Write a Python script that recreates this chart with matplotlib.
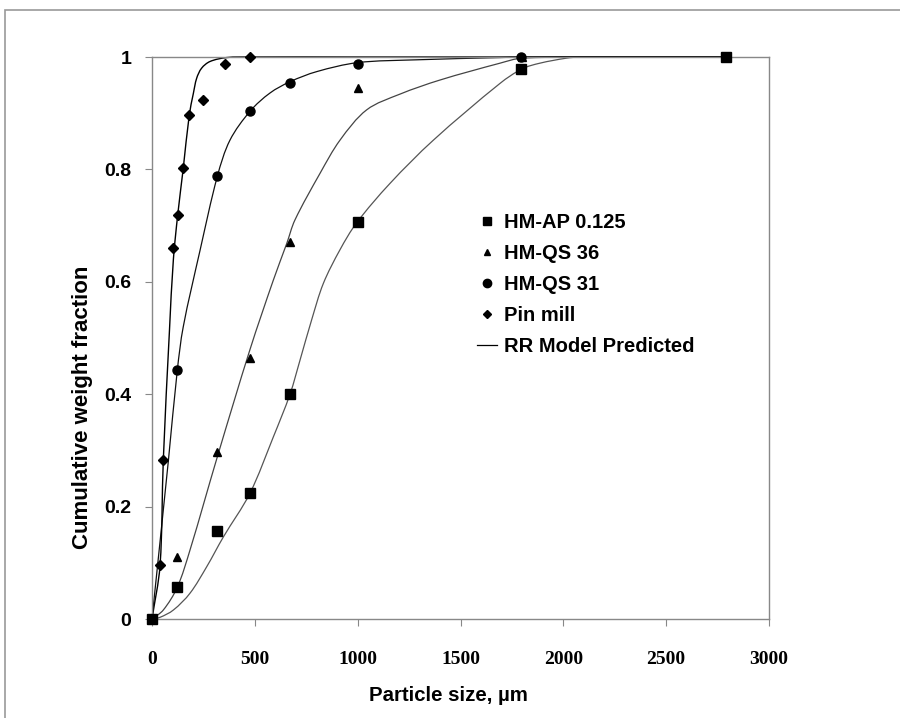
import numpy as np
import matplotlib.pyplot as plt
from matplotlib.patches import Rectangle, PathPatch
from matplotlib.path import Path

SANS = 'Liberation Sans'
SERIF = 'Liberation Serif'

# measured data (particle size in um, cumulative weight fraction)
ap_x = [0, 123, 318, 478, 672, 1000, 1792, 2790]
ap_y = [0, 0.0565, 0.157, 0.224, 0.400, 0.707, 0.979, 1.0]

qs36_x = [0, 123, 318, 478, 672, 1000, 1800]
qs36_y = [0, 0.110, 0.298, 0.464, 0.671, 0.944, 1.0]

qs31_x = [0, 123, 318, 478, 672, 1000, 1794]
qs31_y = [0, 0.4425, 0.788, 0.904, 0.953, 0.988, 1.0]

pin_x = [0, 39, 55, 104, 125, 152, 181, 250, 356, 478]
pin_y = [0, 0.0955, 0.283, 0.661, 0.719, 0.802, 0.896, 0.923, 0.987, 1.0]

# RR model predicted curves
rr_pin_x = [0, 39, 55, 85, 104, 125, 152, 181, 201, 217, 241, 282, 363, 480, 1000, 2800]
rr_pin_y = [0, 0.095, 0.283, 0.514, 0.640, 0.719, 0.802, 0.896, 0.935, 0.962,
            0.980, 0.992, 0.999, 1.0, 1.0, 1.0]

rr_qs31_x = [0, 80, 123, 152, 233, 318, 379, 478, 574, 671, 801, 1000, 1287, 1692, 1800,
             2300, 2800]
rr_qs31_y = [0, 0.283, 0.4425, 0.52, 0.655, 0.788, 0.852, 0.904, 0.936, 0.956,
             0.974, 0.990, 0.995, 0.999, 1.0, 1.0, 1.0]

rr_qs36_x = [0, 55, 123, 185, 318, 476, 590, 655, 695, 817, 914, 1044, 1206,
             1400, 1692, 1800, 2300, 2800]
rr_qs36_y = [0, 0.016, 0.0565, 0.123, 0.289, 0.479, 0.603, 0.668, 0.71,
             0.793, 0.852, 0.906, 0.934, 0.959, 0.989, 0.998, 1.0, 1.0]

rr_ap_x = [0, 39, 104, 185, 266, 347, 476, 590, 671, 720, 776, 833, 914, 995, 1157,
           1368, 1692, 1800, 1886, 2016, 2081, 2400, 2800]
rr_ap_y = [0, 0.003, 0.016, 0.046, 0.093, 0.146, 0.2236, 0.324, 0.400, 0.461, 0.532,
           0.597, 0.657, 0.705, 0.775, 0.852, 0.953, 0.979, 0.989, 0.998, 1.0, 1.0, 1.0]

x_ticks = [0, 500, 1000, 1500, 2000, 2500, 3000]
y_ticks = [0, 0.2, 0.4, 0.6, 0.8, 1.0]
y_tick_labels = ['0', '0.2', '0.4', '0.6', '0.8', '1']


def smooth_path(xs, ys):
    # cubic bezier through the points, like a spreadsheet "smoothed line"
    p = np.column_stack([xs, ys]).astype(float)
    q = p / np.array([3000.0, 1.1])
    t = np.concatenate([[0], np.cumsum(np.hypot(*np.diff(q, axis=0).T))])
    n = len(p)
    m = np.zeros_like(p)
    for i in range(n):
        a, b = max(i - 1, 0), min(i + 1, n - 1)
        m[i] = (p[b] - p[a]) / (t[b] - t[a])
    verts = [p[0]]
    codes = [Path.MOVETO]
    for i in range(n - 1):
        h = (t[i + 1] - t[i]) / 3
        verts += [p[i] + m[i] * h, p[i + 1] - m[i + 1] * h, p[i + 1]]
        codes += [Path.CURVE4] * 3
    return Path(verts, codes)


fig = plt.figure(figsize=(9, 7.18), dpi=100)
ax = fig.add_axes([152 / 900, 1 - 619 / 718, 617 / 900, 562 / 718])

# outer gray frame (partly cut off like the source)
fig.patches.append(Rectangle((5 / 900, -0.1), 1.2, 1.1 - 10 / 718,
                             transform=fig.transFigure, fill=False,
                             edgecolor='#999999', linewidth=1.2))

for cx, cy, col, lw in [(rr_ap_x, rr_ap_y, '#555555', 0.9),
                        (rr_qs36_x, rr_qs36_y, '#444444', 0.9),
                        (rr_qs31_x, rr_qs31_y, '#111111', 0.9),
                        (rr_pin_x, rr_pin_y, '#000000', 1.0)]:
    ax.add_patch(PathPatch(smooth_path(cx, cy), fill=False, edgecolor=col,
                           lw=lw, clip_on=False))

ax.plot(ap_x, ap_y, 's', color='black', ms=6.5, clip_on=False, zorder=5)
ax.plot(qs36_x, qs36_y, '^', color='black', ms=5.5, clip_on=False, zorder=5)
ax.plot(qs31_x, qs31_y, 'o', color='black', ms=6.5, clip_on=False, zorder=5)
ax.plot(pin_x, pin_y, 'D', color='black', ms=5.2, clip_on=False, zorder=5)

ax.set_xlim(0, 3000)
ax.set_ylim(0, 1)
ax.set_xticks(x_ticks)
ax.set_xticklabels([str(v) for v in x_ticks], family=SERIF, fontweight='bold', fontsize=14)
ax.set_yticks(y_ticks)
ax.set_yticklabels(y_tick_labels, family=SANS, fontweight='bold', fontsize=14)
ax.tick_params(axis='x', direction='out', length=5, color='#888888', pad=18)
ax.tick_params(axis='y', direction='out', length=5, color='#888888', pad=10)
for s in ax.spines.values():
    s.set_color('#888888')
    s.set_linewidth(1.0)

ax.set_xlabel('Particle size, µm', family=SANS, fontweight='bold', fontsize=14.7, labelpad=13)
ax.set_ylabel('Cumulative weight fraction', family=SANS, fontweight='bold', fontsize=16, labelpad=8)
ax.xaxis.label.set_x(0.48)
ax.yaxis.label.set_y(0.377)

h_ap, = ax.plot([], [], 's', color='black', ms=6)
h_36, = ax.plot([], [], '^', color='black', ms=5)
h_31, = ax.plot([], [], 'o', color='black', ms=6)
h_pin, = ax.plot([], [], 'D', color='black', ms=4.5)
h_rr, = ax.plot([], [], '-', color='black', lw=0.9)
leg = ax.legend([h_ap, h_36, h_31, h_pin, h_rr],
                ['HM-AP 0.125', 'HM-QS 36', 'HM-QS 31', 'Pin mill', 'RR Model Predicted'],
                loc='upper left', bbox_to_anchor=(477 / 900, 1 - 213 / 718),
                bbox_transform=fig.transFigure, frameon=False, numpoints=1,
                handlelength=1.0, handletextpad=0.35, labelspacing=0.6,
                borderpad=0, borderaxespad=0,
                prop={'family': SANS, 'weight': 'bold', 'size': 14.5})

fig.savefig('out.png', dpi=100)
